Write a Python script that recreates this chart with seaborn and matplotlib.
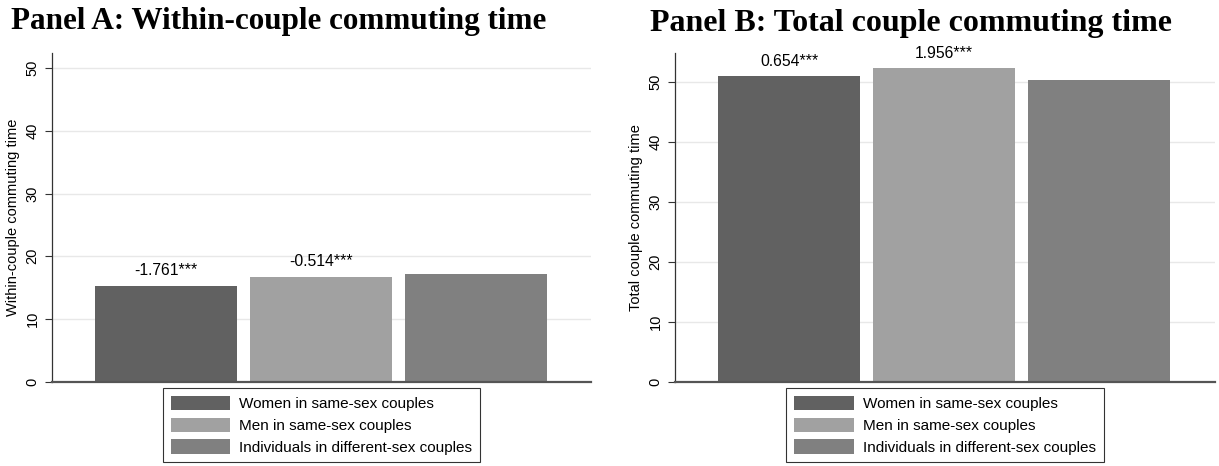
import matplotlib
matplotlib.use("Agg")
import matplotlib.pyplot as plt
from matplotlib.patches import Patch
import seaborn as sns
import pandas as pd

# data
groups = ["Women in same-sex couples", "Men in same-sex couples",
          "Individuals in different-sex couples"]
within_time = [15.3, 16.7, 17.15]
within_labels = ["-1.761***", "-0.514***", ""]
total_time = [50.9, 52.3, 50.3]
total_labels = ["0.654***", "1.956***", ""]
bar_colors = ["#616161", "#a1a1a1", "#808080"]

sns.set_theme(style="white")
plt.rcParams.update({
    "font.family": ["Liberation Sans", "DejaVu Sans"],
    "axes.edgecolor": "#333333",
    "text.color": "black",
    "axes.labelcolor": "black",
    "ytick.color": "black",
})

fig = plt.figure(figsize=(12.19, 4.66), dpi=100)
ax_a = fig.add_axes([52 / 1219, 84.3 / 466, 539 / 1219, 328.7 / 466])
ax_b = fig.add_axes([675 / 1219, 84.3 / 466, 540 / 1219, 328.7 / 466])


def draw_panel(ax, values, labels, ylabel, ytop, offset):
    df = pd.DataFrame({"group": groups, "value": values})
    sns.barplot(data=df, x="group", y="value", hue="group", palette=bar_colors,
                width=0.916, dodge=False, legend=False, ax=ax, saturation=1)
    for patch in ax.patches:
        patch.set_edgecolor("none")
    for i, (v, lab) in enumerate(zip(values, labels)):
        if lab:
            ax.text(i, v + offset, lab, ha="center", va="bottom", fontsize=11.3)
    ax.set_xlim(-0.735, 2.745)
    ax.set_ylim(0, ytop)
    ax.set_yticks(range(0, 51, 10))
    ax.set_yticklabels([str(t) for t in range(0, 51, 10)],
                       rotation=90, va="center", fontsize=10.5)
    ax.tick_params(axis="y", left=True, length=5, width=0.8, color="#333333", pad=4)
    ax.set_xticks([])
    ax.set_xlabel("")
    ax.set_ylabel(ylabel, fontsize=10.5, labelpad=4)
    ax.grid(axis="y", color="#e8e8e8", linewidth=1)
    ax.set_axisbelow(True)
    for s in ["top", "right"]:
        ax.spines[s].set_visible(False)
    ax.spines["left"].set_linewidth(0.9)
    ax.spines["bottom"].set_linewidth(1.6)
    ax.spines["bottom"].set_color("#555555")
    handles = [Patch(facecolor=c, edgecolor="none", label=g)
               for c, g in zip(bar_colors, groups)]
    leg = ax.legend(handles=handles, loc="upper center", bbox_to_anchor=(0.5, -0.02),
                    fontsize=11, frameon=True, fancybox=False, handlelength=3.9,
                    handleheight=1.05, labelspacing=0.42, borderpad=0.5,
                    handletextpad=0.6, borderaxespad=0)
    leg.get_frame().set_edgecolor("black")
    leg.get_frame().set_linewidth(0.8)


draw_panel(ax_a, within_time, within_labels, "Within-couple commuting time", 52.4, 1.2)
draw_panel(ax_b, total_time, total_labels, "Total couple commuting time", 54.8, 1.2)

fig.text(11 / 1219, 1 - 21 / 466, "Panel A: Within-couple commuting time",
         fontsize=22.4, fontweight="bold", family="Liberation Serif", va="center")
fig.text(650 / 1219, 1 - 23 / 466, "Panel B: Total couple commuting time",
         fontsize=23, fontweight="bold", family="Liberation Serif", va="center")

fig.savefig("out.png", dpi=100)
